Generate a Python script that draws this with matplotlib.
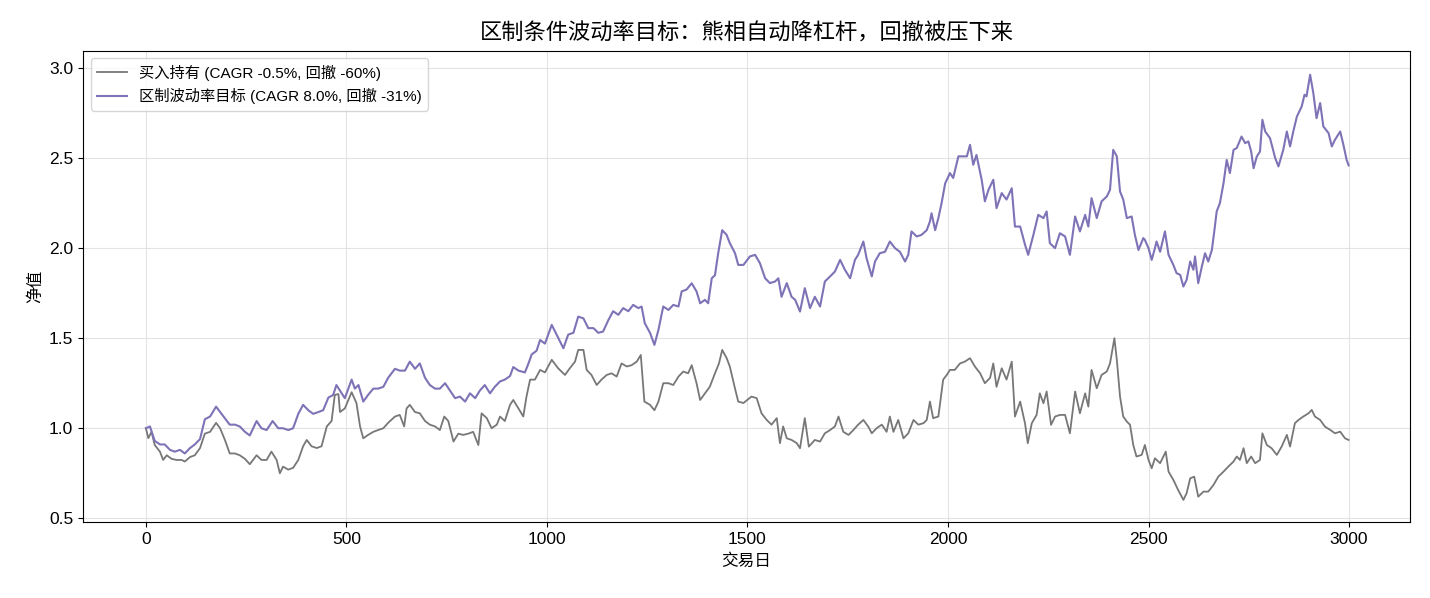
import matplotlib
matplotlib.use("Agg")
import matplotlib.pyplot as plt

plt.rcParams['font.family'] = ['Liberation Sans', 'Noto Sans CJK SC', 'DejaVu Sans']
plt.rcParams['axes.unicode_minus'] = False

title = "区制条件波动率目标：熊相自动降杠杆，回撤被压下来"
xlabel = "交易日"
ylabel = "净值"
label_bh = "买入持有 (CAGR -0.5%, 回撤 -60%)"
label_rv = "区制波动率目标 (CAGR 8.0%, 回撤 -31%)"

rv_days = [0, 10, 22, 35, 47, 60, 72, 85, 97, 110, 122, 135, 147, 160, 175, 185, 197, 209, 222, 234,
           247, 259, 276, 288, 301, 316, 330, 342, 355, 367, 380, 392, 405, 417, 430, 442, 455, 467, 475,
           496, 513, 521, 530, 542, 554, 567, 579, 592, 604, 621, 633, 646, 658, 671, 683, 696, 708, 721,
           733, 746, 758, 771, 783, 796, 808, 821, 833, 845, 858, 870, 883, 895, 908, 916, 929, 945, 954,
           962, 974, 983, 995, 1012, 1024, 1041, 1053, 1066, 1078, 1091, 1103, 1116, 1128, 1140, 1153,
           1165, 1178, 1190, 1203, 1215, 1228, 1236, 1244, 1257, 1268, 1278, 1290, 1303, 1315, 1328, 1336,
           1348, 1361, 1373, 1382, 1394, 1402, 1411, 1419, 1427, 1437, 1448, 1456, 1469, 1477, 1490, 1506,
           1519, 1531, 1544, 1556, 1569, 1577, 1585, 1598, 1610, 1619, 1631, 1643, 1656, 1668, 1681, 1693,
           1706, 1718, 1731, 1743, 1756, 1768, 1776, 1789, 1797, 1810, 1818, 1830, 1843, 1855, 1868, 1880,
           1893, 1901, 1909, 1922, 1934, 1947, 1955, 1959, 1968, 1976, 1984, 1993, 2005, 2013, 2026, 2038,
           2047, 2055, 2063, 2071, 2084, 2092, 2101, 2113, 2121, 2134, 2146, 2159, 2167, 2180, 2192, 2200,
           2213, 2225, 2238, 2246, 2254, 2267, 2279, 2292, 2304, 2317, 2329, 2342, 2350, 2358, 2371, 2383,
           2396, 2404, 2412, 2421, 2429, 2437, 2446, 2458, 2466, 2475, 2487, 2491, 2500, 2508, 2516, 2520,
           2529, 2541, 2550, 2562, 2570, 2579, 2587, 2595, 2604, 2612, 2616, 2624, 2633, 2641, 2649, 2658,
           2664, 2670, 2678, 2687, 2695, 2703, 2712, 2720, 2732, 2741, 2749, 2756, 2762, 2770, 2778, 2784,
           2791, 2803, 2816, 2824, 2836, 2845, 2853, 2861, 2870, 2882, 2889, 2894, 2903, 2911, 2919, 2928,
           2936, 2949, 2957, 2965, 2978, 2986, 2994, 2999]
rv_vals = [1.00, 1.01, 0.93, 0.91, 0.91, 0.88, 0.87, 0.88, 0.86, 0.89, 0.91, 0.94, 1.05, 1.065, 1.12, 1.09,
           1.055, 1.02, 1.02, 1.01, 0.98, 0.96, 1.04, 1.00, 0.99, 1.04, 1.00, 1.00, 0.99, 1.00, 1.08, 1.13,
           1.10, 1.08, 1.09, 1.10, 1.17, 1.185, 1.24,
           1.167, 1.27, 1.22, 1.24, 1.148, 1.185, 1.22, 1.22, 1.23, 1.28, 1.33, 1.32, 1.32, 1.37, 1.33, 1.36,
           1.28, 1.24, 1.22, 1.22, 1.25, 1.21, 1.167, 1.176, 1.148, 1.194, 1.167, 1.21, 1.24, 1.194, 1.23,
           1.26, 1.27, 1.29, 1.34, 1.32, 1.31, 1.36, 1.41, 1.43, 1.49,
           1.47, 1.574, 1.52, 1.444, 1.52, 1.53, 1.62, 1.61, 1.556, 1.556, 1.53, 1.537, 1.60, 1.65, 1.63,
           1.667, 1.65, 1.685, 1.667, 1.676, 1.583, 1.53, 1.463, 1.546, 1.676, 1.657, 1.685, 1.676, 1.76,
           1.77, 1.805, 1.76, 1.694, 1.713, 1.694, 1.833, 1.85, 1.972, 2.10, 2.074, 2.028, 1.972, 1.907,
           1.907, 1.954,
           1.963, 1.917, 1.833, 1.806, 1.815, 1.833, 1.73, 1.806, 1.73, 1.713, 1.648, 1.778, 1.667, 1.73,
           1.676, 1.815, 1.843, 1.87, 1.935, 1.88, 1.833, 1.935, 1.963, 2.037, 1.944, 1.843, 1.926, 1.972,
           1.98, 2.037, 2.0, 1.98, 1.926, 1.963, 2.093, 2.065, 2.074, 2.10, 2.148, 2.194, 2.10, 2.167, 2.25,
           2.36, 2.417, 2.39, 2.51, 2.51, 2.51, 2.574, 2.463, 2.518, 2.38, 2.26, 2.324, 2.38, 2.222, 2.306,
           2.27, 2.333, 2.12, 2.12, 2.02, 1.963, 2.074, 2.185, 2.167, 2.204, 2.028, 2.0, 2.083, 2.065, 1.963,
           2.176, 2.093, 2.185, 2.12, 2.278, 2.167, 2.26, 2.287, 2.324, 2.546, 2.51, 2.315, 2.27, 2.167,
           2.176, 2.074, 1.99, 2.056,
           2.046, 2.0, 1.935, 2.0, 2.037, 1.98, 2.093, 1.963, 1.907, 1.861, 1.852, 1.787, 1.824, 1.926,
           1.88, 1.954, 1.806, 1.898, 1.972, 1.926, 1.99, 2.093, 2.204, 2.25, 2.36, 2.49, 2.417, 2.546,
           2.556, 2.62, 2.583, 2.593, 2.537, 2.444, 2.509, 2.537, 2.713, 2.648, 2.611, 2.5, 2.454, 2.546,
           2.648, 2.565, 2.648, 2.731, 2.787, 2.852, 2.843, 2.963, 2.861, 2.722, 2.806, 2.676, 2.639,
           2.565, 2.602, 2.648, 2.574, 2.491, 2.46]

bh_days = [0, 6, 14, 22, 35, 43, 52, 64, 76, 89, 97, 110, 122, 135, 147, 160, 175, 185, 197, 209, 222,
           234, 247, 259, 276, 288, 301, 313, 326, 334, 342, 355, 367, 380, 392, 401, 413, 426, 438, 451,
           463, 471, 480, 484, 496, 513, 525, 534, 542, 554, 567, 579, 592, 604, 621, 633, 644, 650, 658,
           671, 683, 696, 708, 721, 733, 744, 754, 767, 779, 791, 804, 816, 829, 837, 850, 862, 875, 883,
           895, 908, 916, 929, 941, 949, 958, 970, 983, 995, 1012, 1028, 1045, 1057, 1070, 1078, 1091,
           1099, 1111, 1124, 1136, 1149, 1161, 1174, 1186, 1199, 1211, 1224, 1234, 1243, 1257, 1268, 1278,
           1290, 1303, 1315, 1328, 1340, 1352, 1361, 1373, 1382, 1394, 1406, 1419, 1429, 1437, 1448, 1456,
           1469, 1477, 1490, 1510, 1523, 1535, 1548, 1560, 1573, 1581, 1589, 1598, 1610, 1623, 1631, 1643,
           1653, 1668, 1681, 1693, 1706, 1718, 1727, 1739, 1752, 1764, 1776, 1789, 1801, 1810, 1822, 1835,
           1847, 1855, 1864, 1876, 1889, 1901, 1914, 1926, 1939, 1947, 1955, 1963, 1976, 1988, 1997, 2005,
           2017, 2030, 2042, 2055, 2067, 2080, 2092, 2105, 2113, 2121, 2134, 2146, 2159, 2167, 2180, 2192,
           2199, 2209, 2221, 2229, 2238, 2246, 2257, 2267, 2279, 2292, 2304, 2317, 2329, 2342, 2350, 2358,
           2371, 2383, 2396, 2404, 2415, 2421, 2429, 2437, 2446, 2454, 2462, 2470, 2483, 2491, 2500, 2508,
           2516, 2529, 2543, 2550, 2562, 2574, 2587, 2595, 2604, 2614, 2624, 2637, 2649, 2662, 2674, 2687,
           2699, 2712, 2720, 2728, 2737, 2745, 2756, 2766, 2778, 2784, 2795, 2807, 2820, 2832, 2845, 2853,
           2865, 2874, 2886, 2899, 2907, 2915, 2928, 2940, 2953, 2965, 2978, 2990, 2999]
bh_vals = [1.00, 0.945, 0.98, 0.907, 0.87, 0.824, 0.85, 0.83, 0.824, 0.824, 0.815, 0.84, 0.85, 0.89, 0.97,
           0.98, 1.03, 1.00, 0.935, 0.86, 0.86, 0.85, 0.83, 0.80, 0.85, 0.824, 0.824, 0.87, 0.824, 0.75,
           0.787, 0.77, 0.78, 0.824, 0.90, 0.935, 0.90, 0.89, 0.90, 1.01, 1.04, 1.185, 1.19, 1.09, 1.11,
           1.20, 1.14, 1.01, 0.944, 0.963, 0.98, 0.99, 1.00, 1.03, 1.065, 1.074, 1.01, 1.11, 1.13, 1.09,
           1.083, 1.04, 1.02, 1.01, 0.99, 1.065, 1.04, 0.926, 0.97, 0.963, 0.97, 0.98, 0.907, 1.083, 1.056,
           1.00, 1.02, 1.065, 1.04, 1.13, 1.157, 1.11, 1.065, 1.176, 1.27, 1.27, 1.324, 1.31, 1.38, 1.333,
           1.296, 1.333, 1.37, 1.435, 1.435, 1.324, 1.296, 1.24, 1.27, 1.296, 1.305, 1.287, 1.36, 1.343,
           1.35, 1.37, 1.407, 1.148, 1.13, 1.10, 1.148, 1.25, 1.25, 1.24, 1.287, 1.315, 1.305, 1.35, 1.25,
           1.157, 1.194, 1.23, 1.305, 1.36, 1.435, 1.39, 1.343, 1.22, 1.148, 1.14, 1.176, 1.167, 1.083,
           1.046, 1.02, 1.056, 0.917, 1.01, 0.944, 0.935, 0.917, 0.889, 1.056, 0.898, 0.935, 0.926, 0.972,
           0.99, 1.01, 1.065, 0.98, 0.963, 0.99, 1.02, 1.046, 1.01, 0.972, 1.00, 1.02, 0.98, 1.065, 0.98,
           1.046, 0.944, 0.972, 1.046, 1.02, 1.028, 1.046, 1.148, 1.056, 1.065, 1.27, 1.296, 1.324, 1.324,
           1.36, 1.37, 1.389, 1.343, 1.306, 1.25, 1.28, 1.36, 1.23, 1.333, 1.27, 1.37, 1.065, 1.148, 1.028,
           0.917, 1.028, 1.074, 1.194, 1.139, 1.204, 1.019, 1.065, 1.074, 1.074, 0.972, 1.204, 1.083, 1.194,
           1.12, 1.324, 1.222, 1.296, 1.315, 1.36, 1.50, 1.38, 1.176, 1.065, 1.037, 1.019, 0.907, 0.843,
           0.852, 0.907, 0.824, 0.778, 0.833, 0.806, 0.87, 0.759, 0.713, 0.657, 0.602, 0.639, 0.722, 0.731,
           0.62, 0.648, 0.648, 0.685, 0.731, 0.759, 0.787, 0.815, 0.843, 0.824, 0.889, 0.806, 0.843, 0.806,
           0.824, 0.972, 0.907, 0.889, 0.852, 0.898, 0.963, 0.898, 1.028, 1.046, 1.065, 1.083, 1.102, 1.065,
           1.046, 1.009, 0.991, 0.972, 0.981, 0.944, 0.935]

fig = plt.figure(figsize=(14.3, 5.98), dpi=100)
ax = fig.add_axes([0.058, 0.127, 0.928, 0.788])

ax.plot(bh_days, bh_vals, color='#777777', lw=1.3, label=label_bh)
ax.plot(rv_days, rv_vals, color='#7f72b6', lw=1.5, label=label_rv)

ax.set_title(title, fontsize=16, pad=8)
ax.set_xlabel(xlabel, fontsize=12, labelpad=5)
ax.set_ylabel(ylabel, fontsize=12)
ax.tick_params(labelsize=12.5)
ax.grid(True, color='#dddddd', lw=0.8, alpha=0.8)
ax.set_yticks([0.5, 1.0, 1.5, 2.0, 2.5, 3.0])
ax.set_xlim(-157, 3152)
ax.set_ylim(0.479, 3.096)
ax.legend(loc='upper left', fontsize=11, framealpha=0.8)

fig.savefig("out.png", dpi=100)
